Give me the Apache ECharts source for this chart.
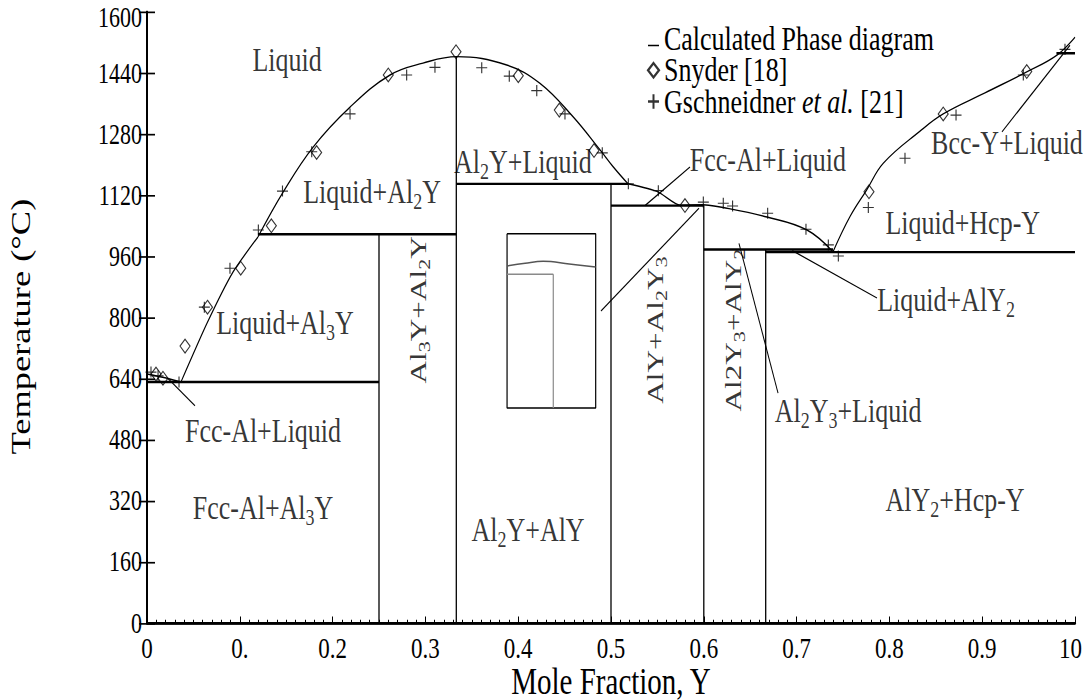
<!DOCTYPE html>
<html>
<head>
<meta charset="utf-8">
<script src="https://cdn.jsdelivr.net/npm/echarts@6/dist/echarts.min.js"></script>
<style>
  html, body { margin: 0; padding: 0; background: #fff; overflow: hidden; }
  #wrap { position: relative; width: 1084px; height: 700px; overflow: hidden; }
  /* the figure is drawn with a taller-than-wide aspect, so the plot is stretched vertically */
  #chart { position: absolute; left: 0; top: 0; width: 1084px; height: 538px;
           transform: scaleY(1.30112); transform-origin: 0 0; }
</style>
</head>
<body>
<div id="wrap"><div id="chart"></div></div>
<script>
// Al–Y phase diagram: calculated boundaries plus experimental liquidus data

// axis tick labels
const xTickLabels = ['0', '0.', '0.2', '0.3', '0.4', '0.5', '0.6', '0.7', '0.8', '0.9', '10'];
const yTickLabels = ['0', '160', '320', '480', '640', '800', '960', '1120', '1280', '1440', '1600'];

// calculated liquidus branches [mole fraction Y, °C]
const liqFcc   = [[0, 652], [0.0194, 642], [0.0366, 631]];
const liqAl3Y  = [[0.0366, 631], [0.0647, 785], [0.0927, 919], [0.1196, 1011]];
const liqAl2Y  = [[0.1196, 1011], [0.1466, 1128], [0.1789, 1246], [0.2188, 1351], [0.2619, 1435],
                  [0.2974, 1466], [0.3337, 1483], [0.3876, 1461], [0.4235, 1413], [0.459, 1326],
                  [0.4881, 1239], [0.5022, 1195], [0.5183, 1150]];
const liqAlY   = [[0.5183, 1150], [0.5506, 1129], [0.5744, 1094], [0.5991, 1095]];
const liqAl2Y3 = [[0.5991, 1095], [0.6207, 1088], [0.6681, 1063], [0.7112, 1029], [0.7392, 972]];
const liqHcp   = [[0.7392, 972], [0.7575, 1064], [0.7755, 1134], [0.7934, 1204], [0.833, 1288],
                  [0.858, 1333], [0.903, 1388], [0.948, 1443], [0.9806, 1487], [1.0, 1534]];

// invariant reactions (horizontal) and compound lines (vertical)
const invariants = [
  [[0, 631], [0.25, 631]],
  [[0.1196, 1018], [0.3333, 1018]],
  [[0.3333, 1150], [0.5183, 1150]],
  [[0.5, 1093], [0.6, 1093]],
  [[0.6, 978], [0.7392, 978]],
  [[0.6667, 971], [1.0, 971]],
  [[0.98, 1492], [1.0, 1492]]
];
const compounds = [
  [[0.25, 0], [0.25, 1018]],
  [[0.3333, 0], [0.3333, 1483]],
  [[0.5, 0], [0.5, 1150]],
  [[0.6, 0], [0.6, 1094]],
  [[0.6667, 0], [0.6667, 978]]
];

// leader lines from labels into narrow fields
const leaders = [
  [[0.0226, 640], [0.0517, 569]],
  [[0.5366, 1093], [0.5851, 1194]],
  [[0.4892, 817], [0.5948, 1086]],
  [[0.6379, 994], [0.6800, 602]],
  [[0.6954, 975], [0.7866, 851]],
  [[0.9946, 1513], [0.9213, 1286]]
];

// magnified view of the Al-rich corner
const insetBox   = [[0.388, 1019], [0.4835, 1019], [0.4835, 563], [0.388, 563], [0.388, 1019]];
const insetLiq   = [[0.388, 935], [0.4075, 942], [0.4269, 947], [0.4550, 940], [0.4835, 932]];
const insetEut   = [[0.388, 913], [0.4378, 913]];
const insetVert  = [[0.4378, 913], [0.4378, 563]];

// experimental liquidus data
const snyder = [[0.0097, 652], [0.0172, 641], [0.041, 725], [0.0652, 827], [0.101, 929], [0.134, 1040],
                [0.1828, 1232], [0.26, 1435], [0.333, 1496], [0.4001, 1433], [0.4443, 1343],
                [0.4817, 1237], [0.5797, 1093], [0.778, 1129], [0.858, 1333], [0.948, 1444]];
const gschneidner = [[0.0043, 657], [0.0119, 647], [0.0345, 631], [0.0618, 827], [0.0894, 929],
                     [0.12, 1029], [0.146, 1131], [0.1775, 1234], [0.2188, 1333], [0.2798, 1435],
                     [0.3103, 1455], [0.3607, 1454], [0.3904, 1432], [0.42, 1394], [0.4504, 1333],
                     [0.4906, 1231], [0.5187, 1150], [0.551, 1132], [0.5995, 1102], [0.621, 1099],
                     [0.631, 1092], [0.6688, 1073], [0.7101, 1031], [0.7342, 990], [0.745, 961],
                     [0.7773, 1088], [0.8168, 1217], [0.8718, 1330], [0.9443, 1435], [0.9892, 1502]];

// phase-field labels [x, °C, text, rotation]
const fieldLabels = [
  [0.151, 1474, 'Liquid', 0],
  [0.2425, 1129, 'Liquid+Al{s|2}Y', 0],
  [0.1487, 785, 'Liquid+Al{s|3}Y', 0],
  [0.125, 503, 'Fcc-Al+Liquid', 0],
  [0.125, 301, 'Fcc-Al+Al{s|3}Y', 0],
  [0.292, 820, 'Al{s|3}Y+Al{s|2}Y', 90],
  [0.405, 1207, 'Al{s|2}Y+Liquid', 0],
  [0.4106, 244, 'Al{s|2}Y+AlY', 0],
  [0.5474, 767, 'AlY+Al{s|2}Y{s|3}', 90],
  [0.6315, 767, 'Al2Y{s|3}+AlY{s|2}', 90],
  [0.669, 1212, 'Fcc-Al+Liquid', 0],
  [0.861, 846, 'Liquid+AlY{s|2}', 0],
  [0.7554, 555, 'Al{s|2}Y{s|3}+Liquid', 0],
  [0.879, 1047, 'Liquid+Hcp-Y', 0],
  [0.9267, 1257, 'Bcc-Y+Liquid', 0],
  [0.8707, 322, 'AlY{s|2}+Hcp-Y', 0]
];

const FONT = 'Liberation Serif';
const CALC = 'Calculated Phase diagram';
const SNY = 'Snyder [18]';
const GSC = 'Gschneidner et al. [21]';

function seg(data, width, name, color) {
  return {
    type: 'line', name: name, data: data, showSymbol: false, symbol: 'none',
    lineStyle: { color: color || '#000', width: width }, itemStyle: { color: color || '#000' },
    silent: true, animation: false, z: 3
  };
}

const series = [];
series.push(Object.assign(seg(liqFcc, 1.1, CALC), { smooth: 0.2 }));
series.push(Object.assign(seg(liqAl3Y, 1.1, CALC), { smooth: 0.2 }));
series.push(Object.assign(seg(liqAl2Y, 1.1, CALC), { smooth: 0.4 }));
series.push(Object.assign(seg(liqAlY, 1.1, CALC), { smooth: 0.2 }));
series.push(Object.assign(seg(liqAl2Y3, 1.1, CALC), { smooth: 0.4 }));
series.push(Object.assign(seg(liqHcp, 1.1, CALC), { smooth: 0.4 }));
invariants.forEach(d => series.push(seg(d, 1.8, CALC)));
compounds.forEach(d => series.push(seg(d, 1.3, CALC)));
leaders.forEach(d => series.push(seg(d, 1, 'leader')));
series.push(seg(insetBox, 1.2, 'inset'));
series.push(Object.assign(seg(insetLiq, 1.1, 'inset', '#555'), { smooth: 0.4 }));
series.push(seg(insetEut, 1.1, 'inset', '#8a8a8a'));
series.push(seg(insetVert, 1.2, 'inset', '#8a8a8a'));

series.push({
  type: 'scatter', name: SNY, data: snyder, symbol: 'diamond', symbolSize: [10, 10.5],
  itemStyle: { color: 'rgba(255,255,255,0)', borderColor: '#000', borderWidth: 1 },
  silent: true, animation: false, z: 4
});
series.push({
  type: 'scatter', name: GSC, data: gschneidner,
  symbol: 'path://M0,5L10,5M5,0L5,10', symbolSize: [11, 8.5],
  itemStyle: { color: 'rgba(0,0,0,0)', borderColor: '#000', borderWidth: 1 },
  silent: true, animation: false, z: 4
});

// upright labels at 26px; the narrow vertical ones a little smaller
const fieldData = fieldLabels.map(d => ({
  value: [d[0], d[1]],
  name: d[2],
  label: d[3] ? {
    rotate: d[3], fontSize: 24,
    rich: { s: { fontFamily: FONT, fontSize: 17, padding: [12, 0, 0, 0], color: '#000' } }
  } : {}
}));
series.push({
  type: 'scatter', name: 'fields', data: fieldData, symbolSize: 0,
  silent: true, animation: false, z: 5,
  label: {
    show: true, position: 'inside',
    formatter: p => p.name,
    fontFamily: FONT, fontSize: 26, color: '#000',
    rich: { s: { fontFamily: FONT, fontSize: 18, padding: [14, 0, 0, 0], color: '#000' } }
  }
});

const option = {
  backgroundColor: '#fff',
  animation: false,
  grid: { left: 147, right: 9, top: 9.2, bottom: 59.2, outerBoundsMode: 'none', containLabel: false },
  legend: {
    data: [
      { name: CALC, icon: 'path://M0,0L20,0L20,0ZM0,18L20,18L20,20L0,20Z' },
      { name: SNY },
      { name: GSC }
    ],
    orient: 'vertical', left: 642, top: 12, itemGap: -2, itemWidth: 11, itemHeight: 11,
    selectedMode: false,
    textStyle: { fontFamily: FONT, fontSize: 26, lineHeight: 23, color: '#000',
      rich: { it: { fontFamily: FONT, fontSize: 26, lineHeight: 23, fontStyle: 'italic', color: '#000' } } },
    formatter: n => n === GSC ? 'Gschneidner {it|et al.} [21]' : n
  },
  xAxis: [{
    type: 'value', min: 0, max: 1, interval: 0.1,
    name: 'Mole Fraction, Y', nameLocation: 'middle', nameGap: 30, nameMoveOverlap: false,
    nameTextStyle: { fontFamily: FONT, fontSize: 29, color: '#000' },
    axisLine: { lineStyle: { color: '#000', width: 2 } },
    axisTick: { inside: true, length: 5, lineStyle: { color: '#000' } },
    minorTick: { show: true, splitNumber: 10, length: 2.5, lineStyle: { color: '#000' } },
    splitLine: { show: false },
    axisLabel: { fontFamily: FONT, fontSize: 23, color: '#000', margin: 8,
      formatter: (v) => {
        const t = xTickLabels[Math.round(v * 10)];
        return v >= 1 ? '{end|' + t + '}' : t;
      },
      rich: { end: { fontFamily: FONT, fontSize: 23, color: '#000', padding: [0, 9, 0, 0] } }
    }
  }, {
    type: 'value', position: 'top', min: 0, max: 1, interval: 0.1,
    axisLine: { lineStyle: { color: '#000', width: 1.2 } },
    axisTick: { show: false }, axisLabel: { show: false }, splitLine: { show: false }
  }],
  yAxis: [{
    type: 'value', min: 0, max: 1600, interval: 160,
    name: 'Temperature (°C)', nameLocation: 'middle', nameGap: 112, nameMoveOverlap: false,
    nameTextStyle: { fontFamily: FONT, fontSize: 28, color: '#000', padding: [0, 14, 0, 0] },
    axisLine: { show: true, lineStyle: { color: '#000', width: 2 } },
    axisTick: { show: true, inside: true, length: 8, lineStyle: { color: '#000', width: 1.3 } },
    splitLine: { show: false },
    axisLabel: { fontFamily: FONT, fontSize: 22, color: '#000', margin: 5,
      formatter: (v) => {
        const t = yTickLabels[Math.round(v / 160)];
        return v >= 1600 ? '{top|' + t + '}' : t;
      },
      rich: { top: { fontFamily: FONT, fontSize: 22, color: '#000', padding: [9, 0, 0, 0] } }
    }
  }, {
    type: 'value', position: 'right', min: 0, max: 1600, interval: 160,
    axisLine: { show: true, lineStyle: { color: '#000', width: 2 } },
    axisTick: { show: true, inside: true, length: 8, lineStyle: { color: '#000', width: 1.3 } },
    axisLabel: { show: false }, splitLine: { show: false }
  }],
  series: series
};

echarts.init(document.getElementById('chart'), null, { renderer: 'svg', width: 1084, height: 538 })
  .setOption(option);
</script>
</body>
</html>
